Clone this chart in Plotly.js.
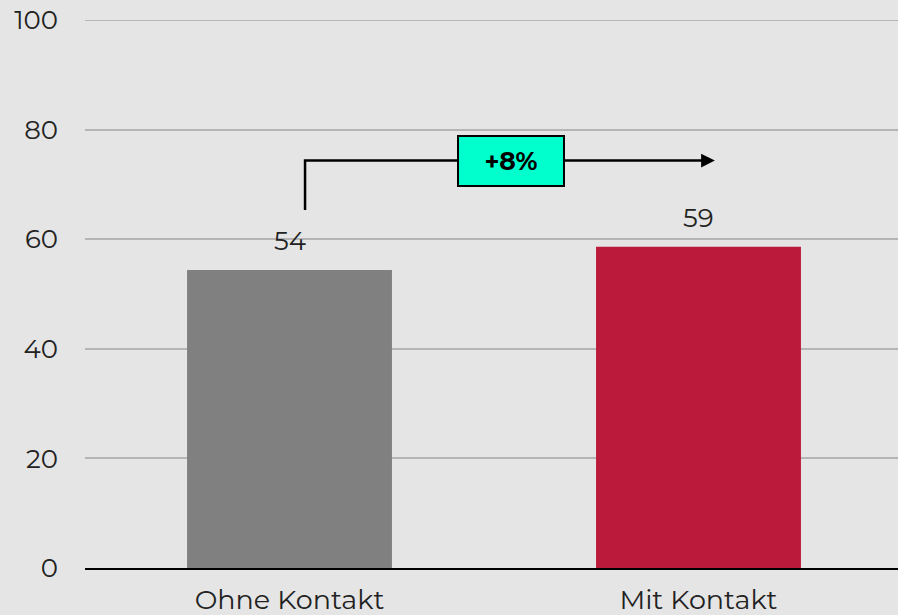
<!DOCTYPE html>
<html><head><meta charset="utf-8">
<script src="https://cdn.plot.ly/plotly-3.0.1.min.js"></script>
<style>html,body{margin:0;padding:0;background:#e5e5e5;overflow:hidden}</style>
</head><body>
<div id="chart" style="width:903px;height:615px"></div>
<script>
const categories = ["Ohne Kontakt", "Mit Kontakt"];
const values = [54.4, 58.6];
const valueLabels = ["54", "59"];
const barColors = ["#808080", "#bc1a3a"];
const deltaLabel = "+8%";
const yTicks = [0, 20, 40, 60, 80, 100];

const font = "Montserrat, Lato, 'Noto Sans', sans-serif";

const trace = {
  type: "bar",
  x: categories,
  y: values,
  marker: {color: barColors},
  hoverinfo: "none",
  showlegend: false
};

const annotations = categories.map((c, i) => ({
  x: c, y: values[i], xref: "x", yref: "y",
  text: valueLabels[i], showarrow: false,
  yanchor: "bottom", yshift: 11,
  font: {family: font, size: 26, color: "#222"}
}));

// Arrow (category positions 0 and 1)
annotations.push({
  x: 1.04, y: 74.36, xref: "x", yref: "y",
  ax: 0.55, ay: 74.36, axref: "x", ayref: "y",
  showarrow: true, arrowhead: 2, arrowsize: 1.1, arrowwidth: 2.5, arrowcolor: "#000",
  text: ""
});
// Delta box
annotations.push({
  x: 0.5416, y: 74.36, xref: "x", yref: "y",
  text: "<b>" + deltaLabel + "</b>", showarrow: false,
  bgcolor: "#00ffcc", bordercolor: "#000", borderwidth: 2,
  width: 104, height: 48, borderpad: 0,
  font: {family: font, size: 25, color: "#000"}
});

const shapes = [
  {
    type: "path", xref: "x", yref: "y",
    path: "M 0.038,65.33 L 0.038,74.36 L 0.45,74.36",
    line: {color: "#000", width: 2.5}
  },
  {
    type: "line", xref: "paper", yref: "y", x0: 0, x1: 1, y0: 100, y1: 100,
    line: {color: "#b5b5b5", width: 2}, layer: "below"
  }
];

const layout = {
  width: 903, height: 615,
  margin: {l: 85, r: 0, t: 20, b: 47},
  paper_bgcolor: "#e5e5e5",
  plot_bgcolor: "#e5e5e5",
  bargap: 0.499,
  xaxis: {
    type: "category",
    showgrid: false, zeroline: false,
    showline: true, linecolor: "#000", linewidth: 2,
    ticks: "", ticklabelstandoff: 7,
    tickfont: {family: font, size: 27, color: "#222"},
    fixedrange: true
  },
  yaxis: {
    range: [0, 100],
    tickvals: yTicks,
    ticktext: yTicks.map(String),
    showgrid: true, gridcolor: "#b5b5b5", gridwidth: 2,
    zeroline: false, showline: false,
    ticks: "", ticklabelstandoff: 26,
    tickfont: {family: font, size: 26, color: "#222"},
    fixedrange: true
  },
  annotations: annotations,
  shapes: shapes
};

Plotly.newPlot("chart", [trace], layout, {displayModeBar: false, staticPlot: true});
</script>
</body></html>
